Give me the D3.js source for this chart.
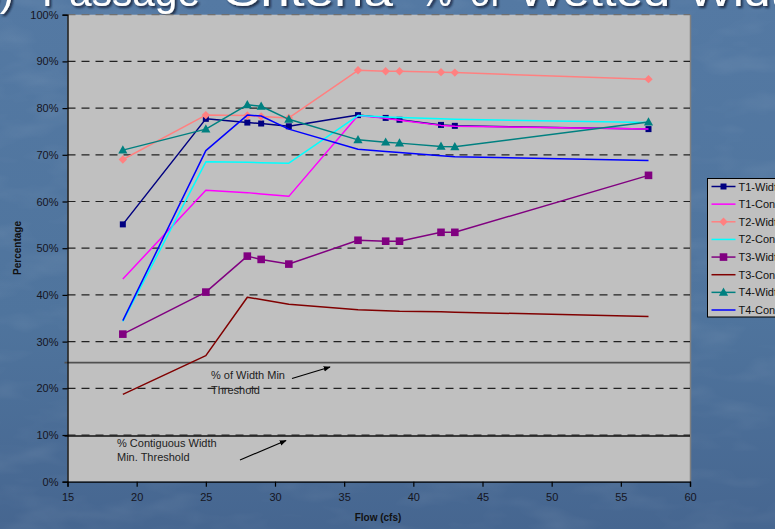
<!DOCTYPE html>
<html>
<head>
<meta charset="utf-8">
<script src="https://cdn.jsdelivr.net/npm/d3@7"></script>
<style>
  html, body { margin: 0; padding: 0; background: #4d719b; overflow: hidden; }
  svg { display: block; }
  text { font-family: "Liberation Sans", Arial, sans-serif; }
</style>
</head>
<body>
<svg id="chart" width="775" height="529"></svg>
<script>
// Flow (cfs) at each measured station
const flows = [19, 25, 28, 29, 31, 36, 38, 39, 42, 43, 57];

// Percent of wetted width meeting criteria, per transect
const t1Width  = [55.1, 77.7, 76.9, 76.7, 76.1, 78.5, 77.9, 77.5, 76.4, 76.2, 75.5];
const t1Contig = [43.4, 62.4, 61.9, 61.6, 61.1, 78.4, 77.8, 77.4, 76.3, 76.1, 75.5];
const t2Width  = [69.0, 78.5, 78.4, 78.2, 77.9, 88.1, 87.9, 87.9, 87.7, 87.6, 86.2];
const t2Contig = [34.3, 68.5, 68.4, 68.3, 68.2, 78.4, 78.1, 78.0, 77.7, 77.6, 76.9];
const t3Width  = [31.6, 40.6, 48.3, 47.6, 46.6, 51.7, 51.5, 51.5, 53.4, 53.4, 65.6];
const t3Contig = [18.7, 27.0, 39.5, 39.0, 38.0, 36.8, 36.6, 36.5, 36.4, 36.3, 35.4];
const t4Width  = [71.0, 75.5, 80.7, 80.4, 77.6, 73.2, 72.7, 72.5, 71.8, 71.7, 77.0];
const t4Contig = [34.5, 70.9, 78.5, 78.3, 75.5, 71.2, 70.7, 70.5, 69.8, 69.6, 68.8];

const seriesNames = ["T1-Width", "T1-Contiguous", "T2-Width", "T2-Contiguous",
                     "T3-Width", "T3-Contiguous", "T4-Width", "T4-Contiguous"];
const seriesValues = [t1Width, t1Contig, t2Width, t2Contig, t3Width, t3Contig, t4Width, t4Contig];
const seriesColors = ["#000080", "#ff00ff", "#ff8080", "#00ffff", "#800080", "#800000", "#008080", "#0000ff"];
const seriesMarkers = ["square", null, "diamond", null, "bigsquare", null, "triangle", null];

// Threshold reference levels (%)
const widthThreshold = 25.5;
const contigThreshold = 9.8;

const xTicks = [15, 20, 25, 30, 35, 40, 45, 50, 55, 60];
const yTicks = [0, 10, 20, 30, 40, 50, 60, 70, 80, 90, 100];
const titleWords = ["3)", "Passage", "Criteria", "%", "of", "Wetted", "Width"];

const svg = d3.select("#chart");
const W = 775, H = 529;
const plot = { left: 67.5, right: 690, top: 14.7, bottom: 481.7 };

const x = d3.scaleLinear().domain([15, 60]).range([plot.left, plot.right]);
const y = d3.scaleLinear().domain([0, 100]).range([plot.bottom, plot.top]);

// ---- slide background ----
const defs = svg.append("defs");
const bg = defs.append("linearGradient").attr("id", "bgGrad")
  .attr("x1", 0).attr("y1", 0).attr("x2", 0).attr("y2", 1);
bg.append("stop").attr("offset", "0%").attr("stop-color", "#5479a3");
bg.append("stop").attr("offset", "60%").attr("stop-color", "#4f749d");
bg.append("stop").attr("offset", "100%").attr("stop-color", "#466690");

const tex = defs.append("filter").attr("id", "texture")
  .attr("x", 0).attr("y", 0).attr("width", "100%").attr("height", "100%");
tex.append("feTurbulence").attr("type", "fractalNoise")
  .attr("baseFrequency", "0.015 0.04").attr("numOctaves", 3).attr("seed", 7).attr("result", "n");
tex.append("feColorMatrix").attr("in", "n").attr("type", "matrix")
  .attr("values", "0 0 0 0 1  0 0 0 0 1  0 0 0 0 1  0 0 0 1.0 -0.45");

svg.append("rect").attr("width", W).attr("height", H).attr("fill", "url(#bgGrad)");
svg.append("rect").attr("width", W).attr("height", H).attr("filter", "url(#texture)").attr("opacity", 0.15);

// ---- slide title (runs off the top edge) ----
const shadow = defs.append("filter").attr("id", "tshadow");
shadow.append("feDropShadow").attr("dx", 2).attr("dy", 2).attr("stdDeviation", 0.8)
  .attr("flood-color", "#0b1a33").attr("flood-opacity", 0.8);
const titleX = [-24, 42, 222, 420, 470, 518, 688];
const titleLen = [38, 158, 171, 32, 30, 152, 122];
const title = svg.append("g").attr("filter", "url(#tshadow)");
title.selectAll("text").data(titleWords).join("text")
  .attr("x", (d, i) => titleX[i]).attr("y", 6)
  .attr("font-size", 40).attr("fill", "#ffffff")
  .attr("textLength", (d, i) => titleLen[i]).attr("lengthAdjust", "spacingAndGlyphs")
  .text(d => d);

// ---- plot area ----
svg.append("rect")
  .attr("x", plot.left).attr("y", plot.top)
  .attr("width", plot.right - plot.left).attr("height", plot.bottom - plot.top)
  .attr("fill", "#c0c0c0");
svg.append("line")
  .attr("x1", plot.right + 0.5).attr("x2", plot.right + 0.5)
  .attr("y1", plot.top).attr("y2", plot.bottom)
  .attr("stroke", "#808080").attr("stroke-width", 1.5);

// dashed horizontal gridlines
svg.append("g").selectAll("line").data(yTicks.filter(d => d > 0)).join("line")
  .attr("x1", plot.left).attr("x2", plot.right)
  .attr("y1", d => y(d)).attr("y2", d => y(d))
  .attr("stroke", d => d === 100 ? "#707070" : "#222")
  .attr("stroke-width", 1.2)
  .attr("stroke-dasharray", "8,6");

// threshold lines
svg.append("line")
  .attr("x1", plot.left - 3).attr("x2", plot.right)
  .attr("y1", y(widthThreshold)).attr("y2", y(widthThreshold))
  .attr("stroke", "#505050").attr("stroke-width", 1.6);
svg.append("line")
  .attr("x1", plot.left - 3).attr("x2", plot.right)
  .attr("y1", y(contigThreshold)).attr("y2", y(contigThreshold))
  .attr("stroke", "#111").attr("stroke-width", 1.4);

// ---- axes ----
const yAxis = d3.axisLeft(y).tickValues(yTicks).tickFormat(d => d + "%").tickSize(5).tickPadding(4);
const gy = svg.append("g").attr("transform", `translate(${plot.left},0)`).call(yAxis);
const xAxis = d3.axisBottom(x).tickValues(xTicks).tickFormat(d3.format("d")).tickSize(5).tickPadding(7);
const gx = svg.append("g").attr("transform", `translate(0,${plot.bottom})`).call(xAxis);
[gy, gx].forEach(g => {
  g.select(".domain").attr("stroke", "#000").attr("stroke-width", 1.3);
  g.selectAll(".tick line").attr("stroke", "#000").attr("stroke-width", 1.2);
  g.selectAll(".tick text").attr("fill", "#15151f").attr("font-size", 11)
    .style("font-family", "'Liberation Sans', Arial, sans-serif");
});

svg.append("text")
  .attr("transform", `translate(21,248) rotate(-90)`)
  .attr("text-anchor", "middle").attr("font-size", 10).attr("font-weight", "bold")
  .attr("fill", "#111").text("Percentage");
svg.append("text")
  .attr("x", 378).attr("y", 521)
  .attr("text-anchor", "middle").attr("font-size", 10).attr("font-weight", "bold")
  .attr("fill", "#111").text("Flow (cfs)");

// ---- series ----
const line = d3.line().x(d => x(d[0])).y(d => y(d[1]));

function drawMarker(sel, kind, color) {
  if (kind === "square") {
    sel.append("rect").attr("x", -3).attr("y", -3).attr("width", 6).attr("height", 6).attr("fill", color);
  } else if (kind === "bigsquare") {
    sel.append("rect").attr("x", -3.8).attr("y", -3.8).attr("width", 7.6).attr("height", 7.6).attr("fill", color);
  } else if (kind === "diamond") {
    sel.append("path").attr("d", "M0,-4.2L4.2,0L0,4.2L-4.2,0Z").attr("fill", color);
  } else if (kind === "triangle") {
    sel.append("path").attr("d", "M0,-4.8L4.6,3.4L-4.6,3.4Z").attr("fill", color);
  }
}

const seriesG = svg.append("g");
seriesValues.forEach((vals, i) => {
  const pts = flows.map((f, j) => [f, vals[j]]);
  const g = seriesG.append("g");
  g.append("path").datum(pts)
    .attr("d", line).attr("fill", "none")
    .attr("stroke", seriesColors[i]).attr("stroke-width", 1.5)
    .attr("stroke-linejoin", "round");
  if (seriesMarkers[i]) {
    g.selectAll("g.m").data(pts).join("g").attr("class", "m")
      .attr("transform", d => `translate(${x(d[0])},${y(d[1])})`)
      .each(function () { drawMarker(d3.select(this), seriesMarkers[i], seriesColors[i]); });
  }
});

// ---- annotations ----
const arrowDef = defs.append("marker").attr("id", "arrow")
  .attr("viewBox", "0 0 10 10").attr("refX", 9).attr("refY", 5)
  .attr("markerWidth", 7).attr("markerHeight", 7).attr("orient", "auto")
  .attr("markerUnits", "userSpaceOnUse");
arrowDef.append("path").attr("d", "M0,1L10,5L0,9Z").attr("fill", "#000");

const ann = svg.append("g").attr("font-size", 11).attr("fill", "#222");
ann.append("text").attr("x", 211).attr("y", 379).text("% of Width Min");
ann.append("text").attr("x", 211).attr("y", 394).text("Threshold");
ann.append("text").attr("x", 117).attr("y", 447).text("% Contiguous Width");
ann.append("text").attr("x", 117).attr("y", 461).text("Min. Threshold");

svg.append("line").attr("x1", 292).attr("y1", 378.5).attr("x2", 330).attr("y2", 367)
  .attr("stroke", "#000").attr("stroke-width", 1.2).attr("marker-end", "url(#arrow)");
svg.append("line").attr("x1", 240).attr("y1", 460).attr("x2", 286).attr("y2", 440.5)
  .attr("stroke", "#000").attr("stroke-width", 1.2).attr("marker-end", "url(#arrow)");

// ---- legend ----
const legend = svg.append("g").attr("transform", "translate(707.5,178.5)");
legend.append("rect").attr("width", 90).attr("height", 138.5)
  .attr("fill", "#c0c0c0").attr("stroke", "#000").attr("stroke-width", 1);
const rowY = d3.scaleLinear().domain([0, 7]).range([8, 131.5]);
seriesNames.forEach((name, i) => {
  const row = legend.append("g").attr("transform", `translate(0,${rowY(i)})`);
  row.append("line").attr("x1", 4).attr("x2", 28).attr("y1", 0).attr("y2", 0)
    .attr("stroke", seriesColors[i]).attr("stroke-width", 1.5);
  if (seriesMarkers[i]) {
    const m = row.append("g").attr("transform", "translate(16,0)");
    drawMarker(m, seriesMarkers[i], seriesColors[i]);
  }
  row.append("text").attr("x", 31).attr("y", 4).attr("font-size", 11)
    .attr("fill", "#111").text(name);
});
</script>
</body>
</html>
